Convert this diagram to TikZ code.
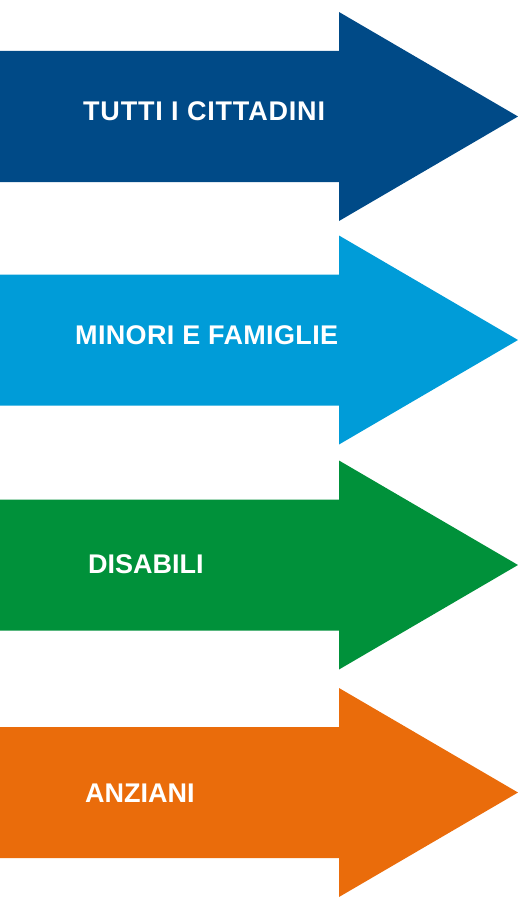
\documentclass[tikz,border=0pt]{standalone}
\usepackage{fontspec}
\setmainfont{Liberation Sans}
\definecolor{cblue}{RGB}{0,74,135}
\definecolor{clight}{RGB}{0,156,216}
\definecolor{cgreen}{RGB}{0,145,58}
\definecolor{corange}{RGB}{234,108,11}
\begin{document}
\begin{tikzpicture}[x=1pt,y=-1pt,
  bigarrow/.style={draw=none},
  lbl/.style={text=white,font=\fontsize{27}{30}\selectfont\bfseries,inner sep=0pt,anchor=base west}]
\useasboundingbox (0,0) rectangle (518,899);
\foreach \c/\col in {116.5/cblue,340/clight,565/cgreen,792.5/corange}{
  \fill[bigarrow,\col] (0,\c-65.5) -- (339,\c-65.5) -- (339,\c-104.5) -- (518,\c)
     -- (339,\c+104.5) -- (339,\c+65.5) -- (0,\c+65.5) -- cycle;
}
\node[lbl] (t1) at (83,120) {\addfontfeature{LetterSpace=3}TUTTI I CITTADINI};
\node[lbl] (t2) at (75,344) {\addfontfeature{LetterSpace=1.3}MINORI E FAMIGLIE};
\node[lbl] (t3) at (88,573) {DISABILI};
\node[lbl] (t4) at (85,802) {ANZIANI};
\end{tikzpicture}
\end{document}
